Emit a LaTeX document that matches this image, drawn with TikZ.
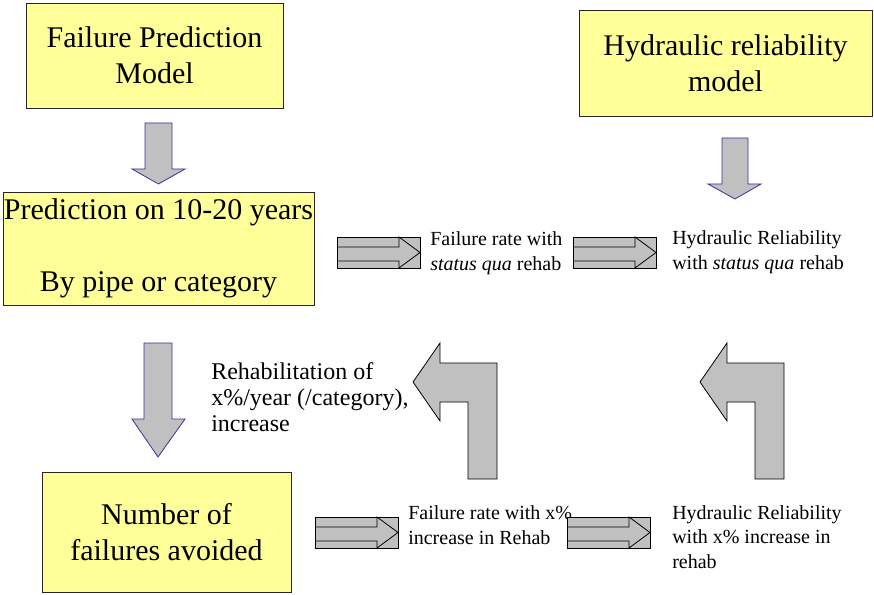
\documentclass[tikz,border=0pt]{standalone}
\usepackage{fontspec}
\setmainfont{Liberation Serif}
\usepackage{tikz}
\definecolor{boxyellow}{HTML}{FFFF99}
\definecolor{arrowgray}{HTML}{C0C0C0}
\definecolor{arrowblue}{HTML}{333399}
\tikzset{
x=0.75pt, y=-0.75pt, % one unit is one pixel of the sketch, y runs down
box/.style={draw=black!85, fill=boxyellow, line width=0.6pt, inner sep=0pt, align=center,
  font=\fontsize{22.5}{27}\selectfont}, % the yellow model boxes
note/.style={anchor=west, inner sep=0pt, align=left, font=\fontsize{15}{18.5}\selectfont}, % small texts
downarrow/.style={draw=arrowblue, fill=arrowgray, line width=0.6pt}, % blue edged block arrows
flatarrow/.pic={
  \draw[fill=arrowgray, line width=0.6pt] (0,0) rectangle (83,31);
  \draw[line width=0.6pt] (0,10) -- (62,10) -- (62,0) -- (83,15.5) -- (62,31) -- (62,24) -- (0,24);
},
bendarrow/.pic={
  \draw[fill=arrowgray, line width=0.6pt] (0,39) -- (27,0) -- (27,20) -- (84,20) -- (84,136)
    -- (55,136) -- (55,59) -- (27,59) -- (27,78) -- cycle;
},
}
\begin{document}
\begin{tikzpicture}
    \useasboundingbox (0,0) rectangle (874,595);
    % model boxes
    \node[box, minimum width=192.75pt, minimum height=78.75pt] (fpm) at (154.5,55.5) {Failure Prediction\\Model};
    \node[box, minimum width=233.25pt, minimum height=84.75pt] (pred) at (158.5,248.5) {Prediction on 10-20 years\\[27pt]By pipe or category};
    \node[box, minimum width=219.75pt, minimum height=79.5pt] (hrm) at (725.5,63) {Hydraulic reliability\\model};
    \node[box, minimum width=186.75pt, minimum height=90pt] (avoided) at (166.5,532) {Number of\\failures avoided};
    % down arrows
    \draw[downarrow] (145,123) -- (172,123) -- (172,169) -- (185,169) -- (158.5,184) -- (132,169) -- (145,169) -- cycle;
    \draw[downarrow] (722,138) -- (748,138) -- (748,184) -- (761,184) -- (735,199) -- (708,184) -- (722,184) -- cycle;
    \draw[downarrow] (144,343) -- (172,343) -- (172,419) -- (185,419) -- (158,457) -- (132,419) -- (144,419) -- cycle;
    % status qua row
    \pic at (337,237) {flatarrow};
    \node[note] (rate1) at (430,253) {Failure rate with\\\textit{status qua} rehab};
    \pic at (573,237) {flatarrow};
    \node[note] (rel1) at (672,252) {Hydraulic Reliability\\with \textit{status qua} rehab};
    % increased rehab row
    \node[note, font=\fontsize{18}{19.5}\selectfont] (rehab) at (211,397) {Rehabilitation of\\x\%/year (/category),\\increase};
    \pic at (413,343) {bendarrow};
    \pic at (700,343) {bendarrow};
    \pic at (315,517) {flatarrow};
    \node[note] (rate2) at (408,525) {Failure rate with x\%\\increase in Rehab};
    \pic at (567,517) {flatarrow};
    \node[note] (rel2) at (672,537) {Hydraulic Reliability\\with x\% increase in\\rehab};
\end{tikzpicture}
\end{document}
